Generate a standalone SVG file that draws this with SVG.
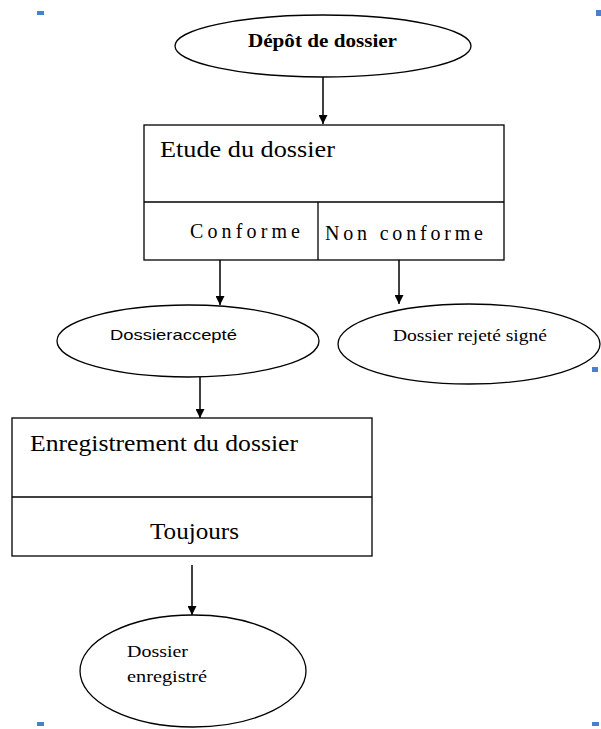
<svg xmlns="http://www.w3.org/2000/svg" width="601" height="729" viewBox="0 0 601 729">
<style>
.s{fill:#fff;stroke:#000;stroke-width:1.3}
.l{stroke:#000;stroke-width:1.3;fill:none}
.c{stroke:#000;stroke-width:1.5;fill:none;marker-end:url(#a)}
.t{font-family:"Liberation Serif",serif;fill:#000}
.h{fill:#4a7fd0}
</style>
<defs>
<marker id="a" viewBox="0 0 10 10" refX="10" refY="5" markerWidth="9" markerHeight="9" markerUnits="userSpaceOnUse" orient="auto">
<path d="M0,0L10,5L0,10z" fill="#000"/>
</marker>
</defs>
<g id="handles">
<rect class="h" x="37" y="11" width="7" height="4"/>
<rect class="h" x="596" y="10" width="5" height="6"/>
<rect class="h" x="592" y="367" width="6" height="5"/>
<rect class="h" x="37" y="722" width="7" height="4"/>
<rect class="h" x="592" y="722" width="7" height="4"/>
</g>
<g id="depot">
<ellipse class="s" cx="323" cy="46" rx="148" ry="31"/>
<text class="t" x="248" y="47" font-size="18" font-weight="bold" textLength="149" lengthAdjust="spacingAndGlyphs">Dépôt de dossier</text>
</g>
<g id="etude">
<rect class="s" x="144" y="125" width="360" height="135"/>
<line class="l" x1="144" y1="202" x2="504" y2="202"/>
<line class="l" x1="318" y1="202" x2="318" y2="260"/>
<text class="t" x="160" y="157" font-size="23" textLength="175" lengthAdjust="spacingAndGlyphs">Etude du dossier</text>
<text class="t" x="190" y="238" font-size="20" textLength="110">Conforme</text>
<text class="t" x="325" y="240" font-size="20" textLength="158">Non conforme</text>
</g>
<g id="accepte">
<ellipse class="s" cx="188" cy="341" rx="131" ry="36"/>
<text x="110" y="340" font-family="Liberation Sans,sans-serif" font-size="15" fill="#000" textLength="127" lengthAdjust="spacingAndGlyphs">Dossieraccepté</text>
</g>
<g id="rejete">
<ellipse class="s" cx="469" cy="344" rx="131" ry="40"/>
<text class="t" x="393" y="341" font-size="17" textLength="154" lengthAdjust="spacingAndGlyphs">Dossier rejeté signé</text>
</g>
<g id="enregistrement">
<rect class="s" x="12" y="418" width="360" height="138"/>
<line class="l" x1="12" y1="497" x2="372" y2="497"/>
<text class="t" x="30" y="451" font-size="23" textLength="268" lengthAdjust="spacingAndGlyphs">Enregistrement du dossier</text>
<text class="t" x="150" y="539" font-size="23" textLength="89" lengthAdjust="spacingAndGlyphs">Toujours</text>
</g>
<g id="enregistre">
<ellipse class="s" cx="193" cy="671" rx="113" ry="56"/>
<text class="t" x="127" y="657" font-size="17" textLength="61" lengthAdjust="spacingAndGlyphs">Dossier</text>
<text class="t" x="127" y="682" font-size="17" textLength="80" lengthAdjust="spacingAndGlyphs">enregistré</text>
</g>
<g id="connectors">
<line class="c" x1="323" y1="77" x2="323" y2="124"/>
<line class="c" x1="220" y1="260" x2="220" y2="305"/>
<line class="c" x1="399" y1="260" x2="399" y2="304"/>
<line class="c" x1="200" y1="377" x2="200" y2="418"/>
<line class="c" x1="192" y1="565" x2="192" y2="615"/>
</g>
</svg>
